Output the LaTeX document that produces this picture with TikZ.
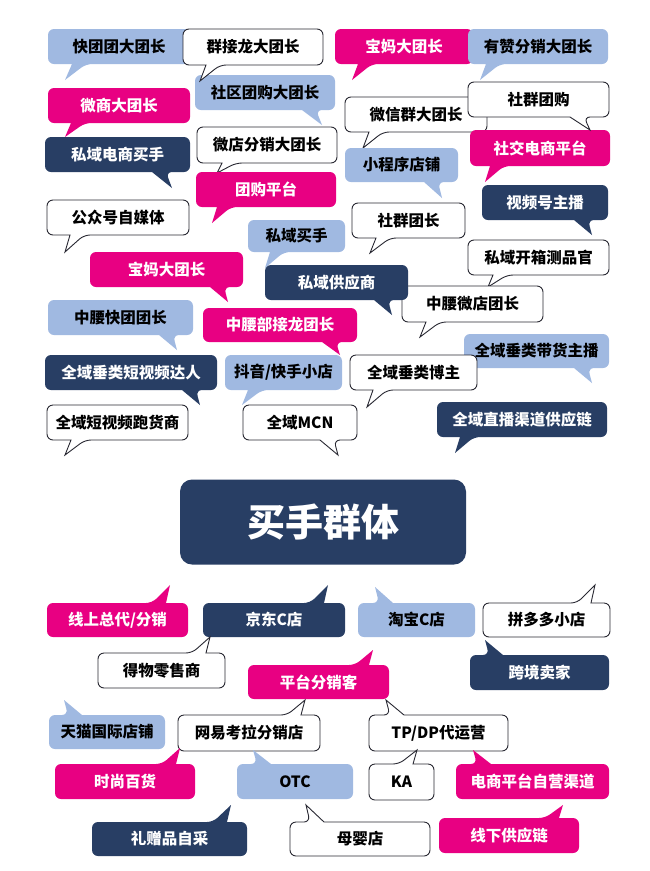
\documentclass[tikz,border=0pt]{standalone}
\usepackage{fontspec}
\setmainfont{Noto Sans CJK SC}
\usepackage{tikz}
\definecolor{lblue}{RGB}{160,185,225}
\definecolor{pinkmag}{RGB}{232,0,130}
\definecolor{deepnavy}{RGB}{40,62,100}
\definecolor{ink}{RGB}{40,40,50}
\tikzset{
  lb/.style={fill=lblue, text=black},
  mg/.style={fill=pinkmag, text=white},
  nv/.style={fill=deepnavy, text=white},
  wh/.style={fill=white, draw=ink, line width=0.9pt, text=black},
}

\begin{document}
\begin{tikzpicture}[x=1pt, y=1pt]
    \useasboundingbox (0,0) rectangle (650,-871);
    \fill[white] (0,0) rectangle (650,-871);

    % Sprechblasen: Stil/Box/Seite/Zipfel/Text
    \foreach \st/\xa/\ya/\xb/\yb/\sd/\bx/\tx/\ty/\txt [count=\i] in {
        lb/195/75/335/110/1/302/322/125/社区团购大团长,
        lb/48/29/190/64/1/72/65/80/快团团大团长,
        wh/183/29/323/65/1/206/200/81/群接龙大团长,
        mg/335/29/473/64/1/358/352/80/宝妈大团长,
        lb/468/29/608/64/1/486/480/80/有赞分销大团长,
        mg/48/88/190/123/1/71/65/137/微商大团长,
        wh/345/97/487/132/1/369/363/148/微信群大团长,
        mg/470/130/610/166/1/490/485/182/社交电商平台,
        wh/468/82/609/117/1/570/590/130/社群团购,
        nv/45/137/190/172/1/152/172/188/私域电商买手,
        wh/197/127/337/163/1/222/217/173/微店分销大团长,
        lb/345/148/458/182/1/424/442/198/小程序店铺,
        mg/196/172/336/207/1/217/212/223/团购平台,
        nv/482/185/608/220/1/574/592/235/视频号主播,
        wh/47/200/189/235/1/70/65/252/公众号自媒体,
        wh/352/203/465/238/1/376/370/253/社群团长,
        lb/248/220/345/252/1/270/265/268/私域买手,
        wh/468/240/609/275/1/493/488/287/私域开箱测品官,
        mg/90/252/243/287/1/210/228/302/宝妈大团长,
        wh/402/286/543/322/1/426/420/337/中腰微店团长,
        nv/265/265/408/300/1/374/392/315/私域供应商,
        lb/48/300/193/335/1/159/177/350/中腰快团团长,
        mg/203/308/357/342/1/322/340/355/中腰部接龙团长,
        lb/464/334/609/368/1/574/592/383/全域垂类带货主播,
        nv/45/355/217/390/1/182/200/405/全域垂类短视频达人,
        lb/225/355/342/390/1/248/242/405/{抖音/快手小店},
        wh/350/355/477/390/1/373/367/407/全域垂类博主,
        wh/47/405/188/440/1/71/65/455/全域短视频跑货商,
        wh/243/405/357/440/1/320/338/455/全域MCN,
        nv/437/402/607/437/1/460/455/453/全域直播渠道供应链,
        mg/47/603/188/637/0/152/170/585/{线上总代/分销},
        nv/203/603/345/637/0/310/328/585/京东C店,
        lb/358/603/475/637/0/379/375/587/淘宝C店,
        wh/483/603/610/637/0/577/595/585/拼多多小店,
        wh/98/653/225/688/0/192/210/637/得物零售商,
        mg/248/665/389/699/0/355/373/650/平台分销客,
        nv/470/655/609/690/0/489/485/640/跨境卖家,
        lb/49/715/165/749/0/68/64/700/天猫国际店铺,
        wh/178/715/320/751/0/287/305/700/网易考拉分销店,
        wh/369/715/508/751/0/390/386/700/{TP/DP代运营},
        mg/55/764/195/799/0/162/180/748/时尚百货,
        lb/237/764/353/799/0/257/253/750/OTC,
        wh/369/764/434/800/0/399/417/750/KA,
        mg/456/764/609/799/0/477/473/750/电商平台自营渠道,
        nv/92/822/247/856/0/213/231/805/礼赠品自采,
        wh/290/822/430/856/0/310/306/805/母婴店,
        mg/439/818/579/853/0/545/563/805/线下供应链} {
        \ifnum\sd=1
            \path[\st, rounded corners=6pt] (\xa,-\ya) -- (\xb,-\ya) -- (\xb,-\yb)
                -- (\bx+14,-\yb) [sharp corners] -- (\tx,-\ty) -- (\bx,-\yb)
                [rounded corners=6pt] -- (\xa,-\yb) -- cycle;
        \else
            \path[\st, rounded corners=6pt] (\xa,-\yb) -- (\xa,-\ya) -- (\bx,-\ya)
                [sharp corners] -- (\tx,-\ty) -- (\bx+14,-\ya)
                [rounded corners=6pt] -- (\xb,-\ya) -- (\xb,-\yb) -- cycle;
        \fi
        \node[\st, fill=none, draw=none, font=\fontsize{15.5}{18}\selectfont\bfseries]
            (bub\i) at ({(\xa+\xb)/2},{-(\ya+\yb)/2}) {\txt};
    }

    % Mitte
    \node[fill=deepnavy, text=white, rounded corners=12pt, minimum width=286pt,
          minimum height=85pt, font=\fontsize{38}{44}\selectfont\bfseries]
        (core) at (323,-522) {买手群体};
\end{tikzpicture}
\end{document}
